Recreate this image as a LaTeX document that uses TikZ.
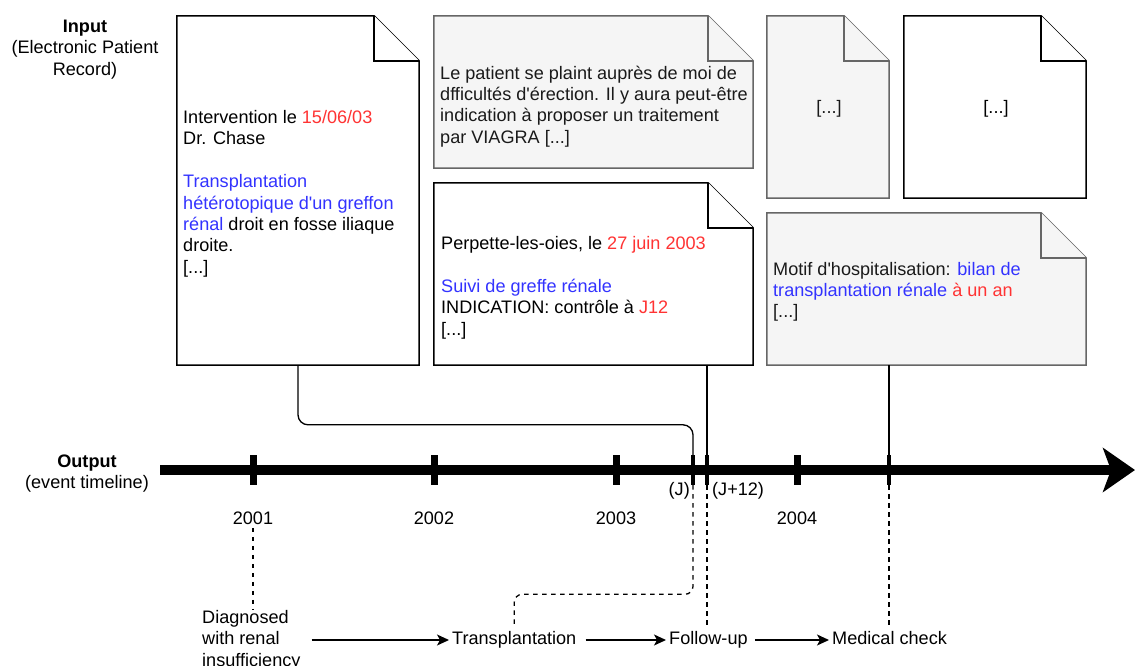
\documentclass[tikz,border=0pt]{standalone}
\usepackage{fontspec}
\setmainfont{Liberation Sans}[Ligatures=TeXOff]
\usepackage{tikz}
\usetikzlibrary{arrows.meta,positioning,calc}
\definecolor{datered}{HTML}{FF3333}
\definecolor{conceptblue}{HTML}{3333FF}
\definecolor{notegray}{HTML}{F5F5F5}
\definecolor{noteline}{HTML}{666666}
\definecolor{notetext}{HTML}{1A1A1A}
\newcommand{\dt}[1]{\textcolor{datered}{#1}}
\newcommand{\cpt}[1]{\textcolor{conceptblue}{#1}}
% dog-eared sheet round a named node
\newcommand{\dogear}[2]{%
  \filldraw[#2] (#1.south west) -- (#1.north west) -- ([xshift=-45]#1.north east)
    -- ([yshift=-45]#1.north east) -- (#1.south east) -- cycle;
  \draw[#2] ([xshift=-45]#1.north east) |- ([yshift=-45]#1.north east);}

\begin{document}
\begin{tikzpicture}[x=1pt,y=1pt]
	\tikzstyle{every node}+=[font=\fontsize{18.1}{21.4}\selectfont]
	\tikzstyle{sheet}=[inner sep=0pt]
	\tikzstyle{whitesheet}=[fill=white, draw=black, line width=1.5pt, line join=miter]
	\tikzstyle{graysheet}=[fill=notegray, draw=noteline, line width=1.5pt, line join=miter]
	\tikzstyle{notetxt}=[anchor=base west, align=left, inner sep=0pt]
	\tikzstyle{yeartick}=[fill=black, inner sep=0pt, minimum width=7pt, minimum height=30pt]
	\tikzstyle{eventtick}=[fill=black, inner sep=0pt, minimum width=3.5pt, minimum height=30pt]
	\tikzstyle{eventlabel}=[anchor=base west, inner sep=3pt, text height=13pt, text depth=4pt]
	\tikzstyle{link}=[line width=1.3pt]
	\tikzstyle{dashlink}=[line width=1.3pt, dash pattern=on 4.5pt off 4.5pt]
	\tikzstyle{flow}=[line width=1.3pt, -{Stealth[length=12pt,width=11pt,inset=3pt]}]
	\useasboundingbox (0,0) rectangle (1135,-666);

	% input side (multi-line nodes sit on the baseline of their last line)
	\node[align=center, anchor=base] (inlabel) at (85,-75.3) {\textbf{Input}\\(Electronic Patient\\Record)};

	\node[sheet, minimum width=242pt, minimum height=349pt] (rapport) at (298,-190.5) {};
	\node[sheet, minimum width=319pt, minimum height=152pt] (plainte) at (593.5,-92) {};
	\node[sheet, minimum width=319pt, minimum height=182pt] (suivi) at (593.5,-274) {};
	\node[sheet, minimum width=122pt, minimum height=182pt] (autreA) at (828,-107) {};
	\node[sheet, minimum width=182pt, minimum height=182pt] (autreB) at (995,-107) {};
	\node[sheet, minimum width=319pt, minimum height=152pt] (bilan) at (926.5,-289) {};
	\dogear{rapport}{whitesheet}
	\dogear{plainte}{graysheet}
	\dogear{suivi}{whitesheet}
	\dogear{autreA}{graysheet}
	\dogear{autreB}{whitesheet}
	\dogear{bilan}{graysheet}

	\node[notetxt] (rapporttxt) at (183,-273.3) {Intervention le \dt{15/06/03}\\Dr. Chase\\\mbox{}\\\cpt{Transplantation}\\\cpt{hétérotopique d'un greffon}\\\cpt{rénal} droit en fosse iliaque\\droite.\\{[...]}};
	\node[notetxt, text=notetext] (plaintetxt) at (440,-143.2) {Le patient se plaint auprès de moi de\\dfficultés d'érection. Il y aura peut-être\\indication à proposer un traitement\\par VIAGRA [...]};
	\node[notetxt] (suivitxt) at (441,-335.1) {Perpette-les-oies, le \dt{27 juin 2003}\\\mbox{}\\\cpt{Suivi de greffe rénale}\\INDICATION: contrôle à \dt{J12}\\{[...]}};
	\node[text=notetext] (autreAtxt) at (829,-109) {[...]};
	\node (autreBtxt) at (996,-109) {[...]};
	\node[notetxt, text=notetext] (bilantxt) at (773,-317.8) {Motif d'hospitalisation: \cpt{bilan de}\\\cpt{transplantation rénale} \dt{à un an}\\{[...]}};

	% timeline
	\node[align=center, anchor=base] (outlabel) at (87,-488.9) {\textbf{Output}\\(event timeline)};
	\coordinate (tstart) at (160,-470);
	\coordinate (tend) at (1135,-470);
	\draw[line width=10pt, -{Stealth[length=32pt,width=44pt,inset=8pt]}] (tstart) -- (tend);

	\node[yeartick] (t2001) at (253,-470) {};
	\node[yeartick] (t2002) at (434,-470) {};
	\node[yeartick] (t2003) at (616,-470) {};
	\node[yeartick] (t2004) at (797,-470) {};
	\node[eventtick] (tJ) at (693,-470) {};
	\node[eventtick] (tJJ) at (707,-470) {};
	\node[eventtick] (tM) at (889,-470) {};

	\node[anchor=base, inner sep=3pt] (y2001) at (253,-524.5) {2001};
	\node[anchor=base, inner sep=3pt] (y2002) at (434,-524.5) {2002};
	\node[anchor=base, inner sep=3pt] (y2003) at (616,-524.5) {2003};
	\node[anchor=base, inner sep=3pt] (y2004) at (797,-524.5) {2004};
	\node[anchor=base east, inner sep=0pt] (jlabel) at (690,-495.5) {(J)};
	\node[anchor=base west, inner sep=0pt] (jjlabel) at (712,-495.5) {(J+12)};

	% documents to events
	\draw[link, rounded corners=10pt] (rapport.south) |- ([yshift=30]tJ.north) -- (tJ.north);
	\draw[link] (tJJ.north |- suivi.south) -- (tJJ.north);
	\draw[link] (tM.north |- bilan.south) -- (tM.north);

	% events
	\node[notetxt] (diag) at (202,-666.3) {Diagnosed\\with renal\\insufficiency};
	\node[eventlabel] (transp) at (449,-644.5) {Transplantation};
	\node[eventlabel] (followup) at (666,-644.5) {Follow-up};
	\node[eventlabel] (medcheck) at (829,-644.5) {Medical check};

	\draw[dashlink] (y2001.south) -- (y2001.south |- diag.north);
	\draw[dashlink, rounded corners=8pt] (tJ.south) |- ([yshift=34]transp.north) -- (transp.north);
	\draw[dashlink] (tJJ.south) -- (tJJ.south |- followup.north);
	\draw[dashlink] (tM.south) -- (tM.south |- medcheck.north);

	\draw[flow, shorten <=11pt] (transp.west -| diag.east) -- (transp.west);
	\draw[flow, shorten <=6pt] (transp.east) -- (followup.west);
	\draw[flow, shorten <=4pt] (followup.east) -- (medcheck.west);
\end{tikzpicture}
\end{document}
